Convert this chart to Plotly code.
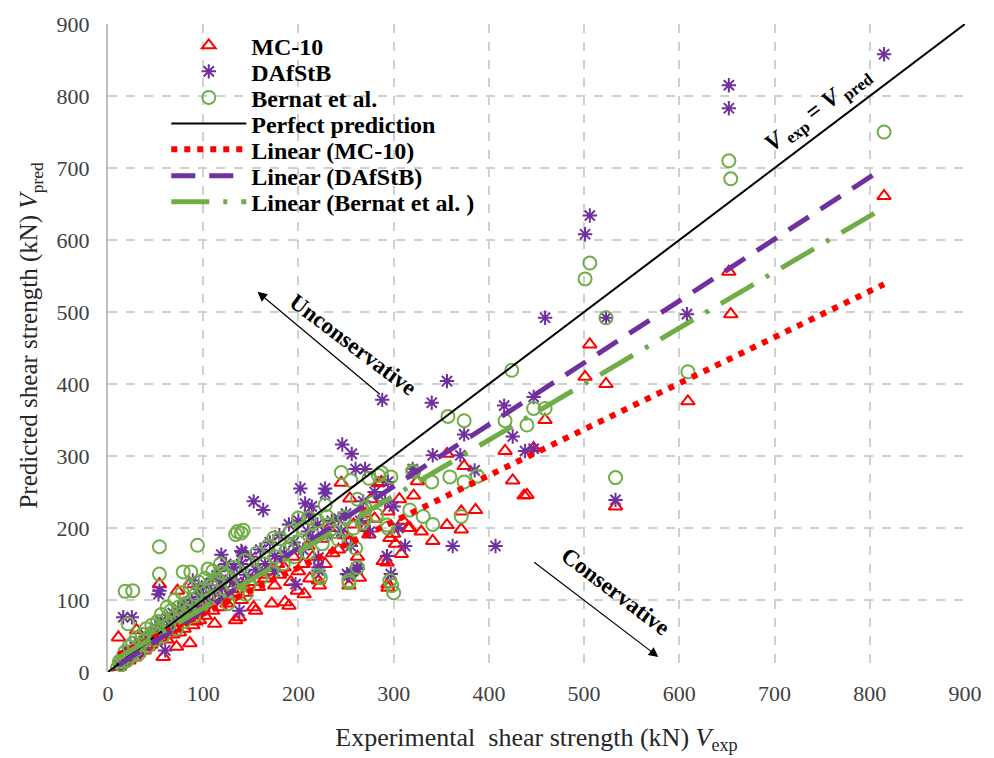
import plotly.graph_objects as go
import numpy as np

# ---- measured vs. predicted shear strength (kN) ----
mc10_x = [815, 652, 654, 609, 506, 501, 523, 533, 459, 447, 440, 417, 425, 437, 356, 374, 386, 371,
          341, 371, 356, 329, 317, 284, 321, 287, 245, 254, 242, 254, 222, 253, 264, 293, 294, 270,
          280, 294, 296, 270, 274, 308, 289, 294, 315, 221, 199, 206, 186, 190, 172, 153, 155, 138,
          134, 112, 96, 89, 86, 73, 54, 30, 11, 12, 58, 72, 86,
          15, 18, 20, 22, 25, 28, 32, 35, 38, 40, 42, 45, 48, 50, 55, 60, 62, 65, 68, 70, 75, 78, 80,
          82, 90, 92, 100, 102, 105, 110, 115, 118, 120, 125, 128, 130, 140, 142, 145, 150, 158, 160,
          165, 168, 175, 178, 180, 185, 192, 195, 200, 205, 210, 212, 215, 225, 228, 232, 236, 248,
          258, 262, 276, 300, 302, 306, 310, 325]
mc10_y = [661, 556, 497, 376, 455, 410, 400, 230, 350, 311, 246, 307, 266, 245, 303, 286, 225, 223,
          182, 198, 204, 195, 200, 262, 245, 264, 263, 241, 170, 182, 120, 120, 131, 152, 122, 220,
          213, 223, 186, 200, 191, 164, 154, 117, 200, 127, 113, 108, 97, 92, 95, 90, 85, 76,
          72, 67, 72, 65, 122, 113, 122, 58, 48, 7, 21, 35, 40,
          14, 22, 28, 16, 30, 20, 26, 40, 30, 45, 35, 38, 52, 42, 48, 55, 45, 60, 52, 62, 55, 70, 60,
          75, 80, 70, 88, 78, 95, 85, 100, 90, 110, 95, 105, 115, 100, 120, 110, 125, 118, 135,
          130, 140, 120, 150, 135, 145, 125, 160, 140, 150, 175, 130, 160, 185, 150, 200, 165, 190,
          205, 160, 240, 192, 178, 240, 210, 265]

dafstb_x = [815, 652, 652, 608, 506, 501, 459, 523, 533, 447, 447, 438, 416, 425, 374, 356, 288, 340,
            341, 370, 320, 385, 294, 407, 362, 246, 256, 260, 270, 202, 228, 228, 153, 163, 207, 214,
            141, 175, 221, 221, 253, 262, 293, 297, 268, 291, 242, 211, 119, 140, 54, 16, 25, 53,
            89, 96, 119, 221, 251, 261, 197, 138, 60,
            12, 15, 18, 22, 25, 28, 30, 33, 36, 40, 42, 45, 48, 50, 52, 56, 58, 62, 65, 68, 70, 74,
            78, 80, 84, 88, 92, 95, 100, 103, 106, 110, 112, 116, 120, 124, 128, 132, 135, 140, 145,
            150, 155, 160, 165, 170, 175, 180, 185, 190, 195, 200, 205, 210, 215, 220, 230, 235, 245,
            250, 255, 265, 275, 280, 300, 305, 312]
dafstb_y = [858, 815, 783, 497, 634, 608, 492, 492, 239, 382, 310, 307, 370, 327, 330, 404, 378, 374,
            301, 301, 282, 280, 264, 175, 175, 316, 303, 282, 282, 255, 255, 248, 237, 225, 234, 230,
            166, 161, 159, 141, 134, 143, 161, 136, 237, 237, 213, 218, 163, 168, 113, 76, 76, 108,
            127, 104, 127, 145, 136, 145, 122, 85, 30,
            10, 20, 14, 28, 22, 35, 26, 40, 32, 50, 42, 55, 46, 62, 50, 70, 58, 75, 64, 82, 68, 88,
            76, 95, 85, 100, 92, 115, 105, 120, 98, 130, 112, 140, 118, 150, 128, 145, 125, 150, 135,
            160, 142, 170, 150, 180, 140, 190, 165, 205, 180, 210, 170, 195, 185, 205, 190, 210, 195,
            220, 175, 210, 195, 250, 230, 200, 175]

bernat_x = [815, 652, 654, 609, 506, 501, 523, 533, 447, 459, 440, 424, 357, 374, 417, 284, 320, 340,
            359, 374, 388, 321, 331, 317, 371, 341, 245, 255, 274, 287, 297, 228, 270, 136, 142, 174,
            242, 253, 260, 221, 253, 262, 298, 300, 270, 282, 294, 267, 54, 94, 134, 140, 18, 26,
            54, 79, 87, 105, 119, 21, 200, 211, 230, 293, 223, 253, 296, 145, 193,
            10, 12, 14, 16, 18, 20, 22, 24, 26, 28, 30, 32, 34, 36, 38, 40, 42, 44, 46, 48, 50, 52,
            54, 56, 58, 60, 62, 64, 66, 68, 70, 72, 74, 76, 78, 80, 82, 84, 86, 88, 90, 92, 95, 98,
            100, 102, 105, 108, 110, 112, 115, 118, 120, 124, 126, 130, 132, 136, 140, 144, 148, 152,
            156, 160, 164, 168, 172, 176, 180, 184, 188, 192, 196, 200, 205, 210, 215, 220, 225, 232,
            238, 248, 258, 262, 278]
bernat_y = [750, 710, 685, 417, 568, 546, 492, 270, 366, 366, 343, 419, 355, 349, 349, 273, 279, 264,
            271, 264, 272, 278, 216, 225, 216, 205, 277, 266, 269, 277, 271, 232, 228, 195, 197, 186,
            184, 182, 172, 134, 124, 145, 120, 110, 213, 218, 200, 207, 174, 176, 191, 193, 112, 113,
            136, 139, 139, 143, 138, 67, 214, 214, 216, 204, 131, 127, 127, 108, 176,
            6, 15, 10, 20, 28, 16, 35, 22, 40, 30, 48, 25, 38, 52, 44, 60, 36, 50, 65, 55, 45, 70,
            60, 80, 50, 72, 90, 65, 85, 75, 100, 60, 90, 80, 110, 70, 95, 85, 118, 100, 78, 108, 125, 92,
            115, 130, 100, 120, 140, 105, 128, 150, 112, 135, 95, 120, 145, 110, 130, 155, 120, 140,
            165, 130, 150, 175, 138, 160, 185, 150, 170, 195, 160, 180, 200, 165, 190, 210, 178, 205,
            195, 215, 200, 240, 235]

# linear trend lines: slope, intercept
mc10_fit = [0.640, 17.0]
dafstb_fit = [0.859, 0.0]
bernat_fit = [0.778, 11.0]

perfect_x = [0, 900]
perfect_y = [0, 900]

axis_ticks = [0, 100, 200, 300, 400, 500, 600, 700, 800, 900]

RED = "#ff0000"
PURPLE = "#7030a0"
GREEN = "#70ad47"
SERIF = "Liberation Serif, Times New Roman, serif"


def fit_line(xs, coef):
    xr = np.array([min(xs), max(xs)], dtype=float)
    return xr, coef[0] * xr + coef[1]


# one legend box per entry so the rows can sit at a fixed spacing
legend_ids = ["legend", "legend2", "legend3", "legend4", "legend5", "legend6", "legend7"]
legend_rows_y = [0.9665, 0.9263, 0.8861, 0.8457, 0.8060, 0.7653, 0.7249]

fig = go.Figure()

fig.add_trace(go.Scatter(
    x=mc10_x, y=mc10_y, mode="markers", name="<b>MC-10</b>", legend=legend_ids[0],
    marker=dict(symbol="triangle-up-open", size=12, color=RED, line=dict(width=2, color=RED))))
fig.add_trace(go.Scatter(
    x=dafstb_x, y=dafstb_y, mode="markers", name="<b>DAfStB</b>", legend=legend_ids[1],
    marker=dict(symbol="asterisk-open", size=12, color=PURPLE, line=dict(width=2, color=PURPLE))))
fig.add_trace(go.Scatter(
    x=bernat_x, y=bernat_y, mode="markers", name="<b>Bernat et al.</b>", legend=legend_ids[2],
    marker=dict(symbol="circle-open", size=13, color=GREEN, line=dict(width=2, color=GREEN))))

fig.add_trace(go.Scatter(
    x=perfect_x, y=perfect_y, mode="lines", name="<b>Perfect prediction</b>", legend=legend_ids[3],
    line=dict(color="black", width=2)))

lx, ly = fit_line(mc10_x, mc10_fit)
fig.add_trace(go.Scatter(x=lx, y=ly, mode="lines", name="<b>Linear (MC-10)</b>", legend=legend_ids[4],
                         line=dict(color=RED, width=6, dash="6px,7px")))
lx, ly = fit_line(dafstb_x, dafstb_fit)
fig.add_trace(go.Scatter(x=lx, y=ly, mode="lines", name="<b>Linear (DAfStB)</b>", legend=legend_ids[5],
                         line=dict(color=PURPLE, width=5, dash="24px,14px")))
lx, ly = fit_line(bernat_x, bernat_fit)
fig.add_trace(go.Scatter(x=lx, y=ly, mode="lines", name="<b>Linear (Bernat et al. )</b>", legend=legend_ids[6],
                         line=dict(color=GREEN, width=5, dash="38px,14px,4px,14px")))

annotations = [
    dict(x=746, y=780, xref="x", yref="y", showarrow=False, textangle=-37,
         text="<b><i>V</i></b><sub><b> exp</b></sub><b> = </b><b><i>V</i></b><sub><b> pred</b></sub>",
         font=dict(family=SERIF, size=24, color="black")),
    dict(x=257, y=455, xref="x", yref="y", showarrow=False, textangle=37,
         text="<b>Unconservative</b>", font=dict(family=SERIF, size=23, color="black")),
    dict(x=533, y=112, xref="x", yref="y", showarrow=False, textangle=37,
         text="<b>Conservative</b>", font=dict(family=SERIF, size=23, color="black")),
    # arrows
    dict(x=157, y=528, ax=287, ay=384, xref="x", yref="y", axref="x", ayref="y",
         showarrow=True, arrowhead=2, arrowsize=1.6, arrowwidth=1.2, arrowcolor="black", text=""),
    dict(x=578, y=21, ax=446, ay=154, xref="x", yref="y", axref="x", ayref="y",
         showarrow=True, arrowhead=2, arrowsize=1.6, arrowwidth=1.2, arrowcolor="black", text=""),
    # y-axis title
    dict(x=0, y=0.52, xref="paper", yref="paper", xshift=-95, showarrow=False, textangle=-90,
         text="Predicted shear strength (kN) <i>V</i><sub>pred</sub>",
         font=dict(family=SERIF, size=25, color="#262626")),
]

axis_common = dict(
    range=[0, 900], tickvals=axis_ticks, ticks="",
    showgrid=True, gridcolor="#d0d0d0", gridwidth=2, griddash="dash",
    zeroline=False, tickfont=dict(family=SERIF, size=22, color="#404040"),
)

legend_style = dict(xanchor="left", yanchor="middle", bgcolor="rgba(0,0,0,0)",
                    font=dict(family=SERIF, size=24, color="black"),
                    itemwidth=75, borderwidth=0)
legend_layout = {}
for lid, ly_pos in zip(legend_ids, legend_rows_y):
    legend_layout[lid] = dict(x=0.068, y=ly_pos, **legend_style)

fig.update_layout(
    width=994, height=758,
    margin=dict(l=108, r=24, t=18, b=86),
    paper_bgcolor="white", plot_bgcolor="white",
    showlegend=True,
    annotations=annotations,
    xaxis=dict(**axis_common, showline=False, ticklabelstandoff=6,
               title=dict(text="Experimental  shear strength (kN) <i>V</i><sub>exp</sub>",
                          font=dict(family=SERIF, size=26, color="#262626"), standoff=22)),
    yaxis=dict(**axis_common, showline=True, linecolor="#bfbfbf", linewidth=2, ticklabelstandoff=12),
    **legend_layout,
)

fig.write_html("out.html")
